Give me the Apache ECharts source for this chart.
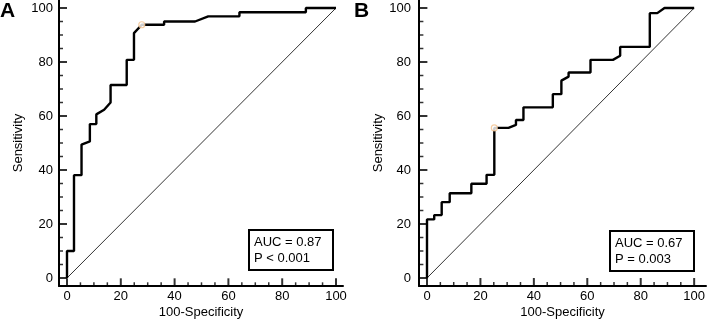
<!DOCTYPE html>
<html>
<head>
<meta charset="utf-8">
<script src="https://cdn.jsdelivr.net/npm/echarts@6/dist/echarts.min.js"></script>
</head>
<body style="margin:0;background:#fff">
<div id="chart" style="width:708px;height:326px"></div>
<script>
// ROC curve A (100-Specificity, Sensitivity)
const rocAx = [0, 0, 2.6, 2.6, 5.4, 5.4, 8.5, 8.5, 10.9, 10.9, 13.8, 16.2, 16.2, 22.2, 22.2, 24.9, 24.9, 27.8, 36.1, 36.1, 47.6, 52.5, 64.1, 64.1, 88.8, 88.8, 100];
const rocAy = [0, 10, 10, 38.1, 38.1, 49.4, 50.6, 57, 57, 60.6, 62.3, 65, 71.5, 71.5, 80.8, 80.8, 90.7, 93.8, 93.8, 95, 95, 96.9, 96.9, 98.4, 98.4, 100, 100];
// ROC curve B
const rocBx = [0, 0, 2.7, 2.7, 5.5, 5.5, 8.5, 8.5, 16.6, 16.6, 22.3, 22.3, 25.2, 25.2, 30.5, 33.3, 33.3, 36.1, 36.1, 47.1, 47.1, 50.3, 50.3, 53, 53, 61.2, 61.2, 69.6, 72.3, 72.3, 83.4, 83.4, 86.2, 88.9, 100];
const rocBy = [0, 21.7, 21.7, 23.3, 23.3, 28.1, 28.1, 31.4, 31.4, 34.9, 34.9, 38.2, 38.2, 55.6, 55.6, 56.7, 58.5, 58.5, 63.2, 63.2, 68.1, 68.1, 73.1, 74.6, 76.1, 76.1, 80.8, 80.8, 82.3, 85.6, 85.6, 98.1, 98.1, 100, 100];
// optimal cut-off points
const cutA = [27.8, 93.8];
const cutB = [25.2, 55.6];
const refLine = [[0, 0], [100, 100]];

const majorTicks = [0, 20, 40, 60, 80, 100];
const minorTicks = [5, 10, 15, 25, 30, 35, 45, 50, 55, 65, 70, 75, 85, 90, 95];
const panelLabels = ['A', 'B'];
const aucTexts = ['AUC = 0.87\nP < 0.001', 'AUC = 0.67\nP = 0.003'];

const font = "'Liberation Sans', Arial, sans-serif";

// where the axis lines cross, in data units of the inner 0..100 grids
const baseA = { x: -2.97, y: -3.08 };
const baseB = { x: -2.85, y: -2.97 };

function toPairs(xs, ys) {
    return xs.map((x, i) => [x, ys[i]]);
}

// outer axis: only the (longer) axis line and the name
function lineAxis(grid, min, max, name, gap) {
    return {
        type: 'value', gridIndex: grid, min: min, max: max,
        name: name, nameLocation: 'middle', nameGap: gap,
        nameTextStyle: { fontFamily: font, fontSize: 13, color: '#000' },
        axisLine: { show: true, onZero: false, lineStyle: { color: '#000', width: 2 } },
        axisTick: { show: false },
        axisLabel: { show: false },
        splitLine: { show: false }
    };
}

// inner axis: 0..100 labels, pushed out onto the axis line
function labelAxis(grid, offset, margin) {
    return {
        type: 'value', gridIndex: grid, min: 0, max: 100, interval: 20, offset: offset,
        axisLine: { show: false, onZero: false },
        axisTick: { show: false },
        axisLabel: { margin: margin, fontFamily: font, fontSize: 13, color: '#000' },
        splitLine: { show: false }
    };
}

const xAxes = [
    lineAxis(0, -2.97, 102.6, '100-Specificity', 20),
    labelAxis(1, 8, 4),
    lineAxis(2, -2.85, 103.1, '100-Specificity', 20),
    labelAxis(3, 8, 4)
];
const yAxes = [
    lineAxis(0, -3.1, 103.1, 'Sensitivity', 34),
    labelAxis(1, 8, 6),
    lineAxis(2, -2.97, 103.1, 'Sensitivity', 34),
    labelAxis(3, 8, 8)
];
xAxes.forEach(a => a.position = 'bottom');
yAxes.forEach(a => a.position = 'left');

function curveSeries(i, data) {
    return {
        type: 'line', xAxisIndex: i, yAxisIndex: i, data: data,
        symbol: 'none', clip: false, silent: true, z: 3,
        lineStyle: { color: '#000', width: 2.4 }
    };
}

function refSeries(i) {
    return {
        type: 'line', xAxisIndex: i, yAxisIndex: i, data: refLine,
        symbol: 'none', clip: false, silent: true, z: 2,
        lineStyle: { color: '#333', width: 1 }
    };
}

function cutSeries(i, pt) {
    return {
        type: 'scatter', xAxisIndex: i, yAxisIndex: i, data: [pt],
        symbol: 'circle', symbolSize: 6, silent: true, z: 5,
        itemStyle: { color: '#fff', borderColor: '#f2c08c', borderWidth: 1.2 }
    };
}

// inward tick marks, placed on the inner grids where the axis lines cross
function tickSeries(i, base, ticks, len, width) {
    const common = { type: 'scatter', xAxisIndex: i, yAxisIndex: i, symbol: 'rect', silent: true, clip: false, z: 4,
                     itemStyle: { color: '#000' } };
    return [
        Object.assign({}, common, { data: ticks.map(v => [v, base.y]), symbolSize: [width, len], symbolOffset: [0, -len / 2] }),
        Object.assign({}, common, { data: ticks.map(v => [base.x, v]), symbolSize: [len, width], symbolOffset: [len / 2, 0] })
    ];
}

const option = {
    animation: false,
    title: [
        { text: panelLabels[0], left: 0, top: 1, padding: 0, textStyle: { fontFamily: font, fontSize: 21, fontWeight: 'bold', color: '#000' } },
        { text: panelLabels[1], left: 354, top: 1, padding: 0, textStyle: { fontFamily: font, fontSize: 21, fontWeight: 'bold', color: '#000' } },
        { text: aucTexts[0], left: 249, top: 230, padding: [4, 12, 4, 5], borderColor: '#000', borderWidth: 2,
          textStyle: { fontFamily: font, fontSize: 13, fontWeight: 'normal', color: '#000', lineHeight: 16 } },
        { text: aucTexts[1], left: 610, top: 231, padding: [4, 12, 4, 5], borderColor: '#000', borderWidth: 2,
          textStyle: { fontFamily: font, fontSize: 13, fontWeight: 'normal', color: '#000', lineHeight: 16 } }
    ],
    grid: [
        { left: 59, top: 0, width: 284, height: 286 },
        { left: 67, top: 8, width: 269, height: 270 },
        { left: 419, top: 0, width: 287, height: 286 },
        { left: 427, top: 8, width: 270, height: 270 }
    ],
    xAxis: xAxes,
    yAxis: yAxes,
    series: [
        ...tickSeries(1, baseA, majorTicks, 8, 2),
        ...tickSeries(1, baseA, minorTicks, 4, 1.5),
        ...tickSeries(3, baseB, majorTicks, 8, 2),
        ...tickSeries(3, baseB, minorTicks, 4, 1.5),
        refSeries(1),
        curveSeries(1, toPairs(rocAx, rocAy)),
        cutSeries(1, cutA),
        refSeries(3),
        curveSeries(3, toPairs(rocBx, rocBy)),
        cutSeries(3, cutB)
    ]
};

const chart = echarts.init(document.getElementById('chart'));
chart.setOption(option);
</script>
</body>
</html>
